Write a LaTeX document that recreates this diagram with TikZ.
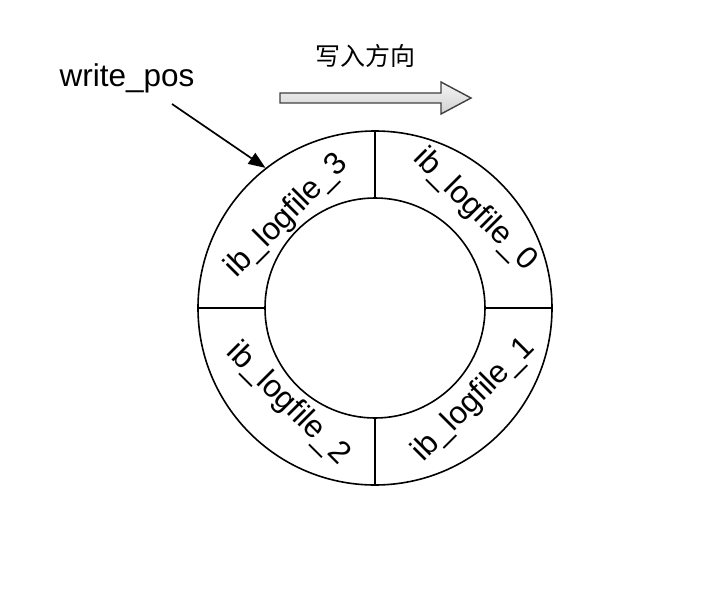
\documentclass[tikz,border=0pt]{standalone}
\usepackage{fontspec}
\setmainfont{Liberation Sans}
\newfontfamily\cjk{Noto Sans CJK SC}
\usetikzlibrary{arrows.meta}
\begin{document}
\begin{tikzpicture}[x=1pt,y=-1pt,
  ring/.style={draw=black,line width=1.6pt,circle,inner sep=0pt},
  divider/.style={draw=black,line width=1.6pt},
  seglabel/.style={font=\fontsize{31.5}{36}\selectfont,inner sep=0pt},
  bigarrow/.style={draw=black!75,line width=1.4pt,top color=black!4,bottom color=black!18},
  ptr/.style={draw=black,line width=1.7pt,-{Triangle[length=17pt,width=13pt]}}]
\useasboundingbox (0,0) rectangle (724,610);
\fill[white] (0,0) rectangle (724,610);
% ring
\node[ring,minimum size=354pt] (outer) at (375,308) {};
\node[ring,minimum size=220pt] (inner) at (375,308) {};
\draw[divider] (inner.north) -- (outer.north);
\draw[divider] (inner.south) -- (outer.south);
\draw[divider] (inner.west) -- (outer.west);
\draw[divider] (inner.east) -- (outer.east);
% labels
\node[seglabel,rotate=45] (l3) at (287,216) {ib\_logfile\_3};
\node[seglabel,rotate=-45] (l0) at (475,210) {ib\_logfile\_0};
\node[seglabel,rotate=-45] (l2) at (288,404) {ib\_logfile\_2};
\node[seglabel,rotate=45] (l1) at (474,400) {ib\_logfile\_1};
% direction arrow
\node[font=\cjk\fontsize{25}{30}\selectfont,inner sep=0pt] (dir) at (365,56) {写入方向};
\draw[bigarrow] (280,93) -- (441,93) -- (441,82) -- (471,98) -- (441,114) -- (441,103) -- (280,103) -- cycle;
% write_pos pointer
\node[font=\fontsize{31.5}{36}\selectfont,inner sep=0pt,anchor=base] (wp) at (127,87) {write\_pos};
\coordinate (wpstart) at (172,104);
\draw[ptr] (wpstart) -- (outer.128);
\end{tikzpicture}
\end{document}
